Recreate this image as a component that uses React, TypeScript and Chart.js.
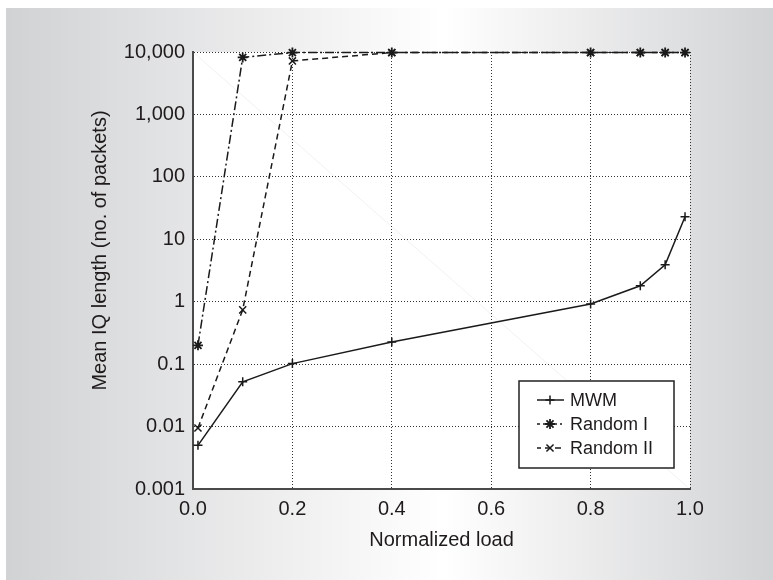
import React, { useEffect, useRef } from 'react';
import { Chart, registerables } from 'chart.js';

Chart.register(...registerables);

// ---- data ----
const loads = [0.01, 0.1, 0.2, 0.4, 0.8, 0.9, 0.95, 0.99];
const mwm = [0.005, 0.052, 0.102, 0.226, 0.92, 1.8, 3.9, 23];
const randomI = [0.2, 8200, 9800, 9800, 9800, 9800, 9800, 9800];
const randomII = [0.0095, 0.74, 7200, 9800, 9800, 9800, 9800, 9800];
const seriesNames = ['MWM', 'Random I', 'Random II'];

const xTickValues = [0, 0.2, 0.4, 0.6, 0.8, 1.0];
const xTickLabels = ['0.0', '0.2', '0.4', '0.6', '0.8', '1.0'];
const yTickValues = [0.001, 0.01, 0.1, 1, 10, 100, 1000, 10000];
const yTickLabels = ['0.001', '0.01', '0.1', '1', '10', '100', '1,000', '10,000'];
const xTitle = 'Normalized load';
const yTitle = 'Mean IQ length (no. of packets)';

const FONT = '"Liberation Sans", Arial, Helvetica, sans-serif';
const TEXT = '#1f1b1c';

const toPoints = (ys: number[]) => loads.map((x, i) => ({ x, y: ys[i] }));

const backgroundPlugin = {
  id: 'panelBg',
  beforeDraw(chart: any) {
    const { ctx, width, height, chartArea } = chart;
    ctx.save();
    ctx.fillStyle = '#ffffff';
    ctx.fillRect(0, 0, width, height);
    const g = ctx.createLinearGradient(6, 0, width, 0);
    g.addColorStop(0, '#d1d2d4');
    g.addColorStop(0.57, '#ffffff');
    g.addColorStop(1, '#d2d3d5');
    ctx.fillStyle = g;
    ctx.fillRect(6, 8, width - 6, height - 8);
    ctx.fillStyle = '#ffffff';
    ctx.fillRect(chartArea.left, chartArea.top, chartArea.right - chartArea.left, chartArea.bottom - chartArea.top);
    // faint diagonal artefact
    ctx.strokeStyle = '#f2f2f2';
    ctx.lineWidth = 1;
    ctx.beginPath();
    ctx.moveTo(chartArea.left, chartArea.top);
    ctx.lineTo(chartArea.right, chartArea.bottom);
    ctx.stroke();
    ctx.restore();
  },
};

const yTitlePlugin = {
  id: 'yTitle',
  afterDraw(chart: any) {
    const { ctx, chartArea } = chart;
    ctx.save();
    ctx.translate(100, (chartArea.top + chartArea.bottom) / 2 - 20);
    ctx.rotate(-Math.PI / 2);
    ctx.font = `20px ${FONT}`;
    ctx.fillStyle = TEXT;
    ctx.textAlign = 'center';
    ctx.textBaseline = 'middle';
    ctx.fillText(yTitle, 0, 0);
    ctx.restore();
  },
};

// minimal marker drawer for legend samples
function drawMarker(ctx: CanvasRenderingContext2D, style: string, r: number, x: number, y: number) {
  const dd = r * Math.SQRT1_2;
  ctx.beginPath();
  if (style === 'cross' || style === 'star') {
    ctx.moveTo(x - r, y);
    ctx.lineTo(x + r, y);
    ctx.moveTo(x, y - r);
    ctx.lineTo(x, y + r);
  }
  if (style === 'crossRot' || style === 'star') {
    ctx.moveTo(x - dd, y - dd);
    ctx.lineTo(x + dd, y + dd);
    ctx.moveTo(x - dd, y + dd);
    ctx.lineTo(x + dd, y - dd);
  }
  ctx.stroke();
}

const legendDashOffsets = [0, 6, 2];

const boxLegendPlugin = {
  id: 'boxLegend',
  afterDraw(chart: any) {
    const { ctx, chartArea } = chart;
    const w = 155;
    const h = 87;
    const right = chartArea.right - 16;
    const bottom = chartArea.bottom - 21;
    const left = right - w;
    const top = bottom - h;
    ctx.save();
    ctx.fillStyle = '#ffffff';
    ctx.fillRect(left, top, w, h);
    ctx.strokeStyle = '#222222';
    ctx.lineWidth = 1.5;
    ctx.strokeRect(left, top, w, h);
    chart.data.datasets.forEach((ds: any, i: number) => {
      const cy = top + 19 + i * 24;
      ctx.save();
      ctx.strokeStyle = ds.borderColor;
      ctx.lineWidth = ds.borderWidth;
      ctx.setLineDash(ds.borderDash || []);
      ctx.lineDashOffset = legendDashOffsets[i];
      ctx.beginPath();
      ctx.moveTo(left + 18, cy);
      ctx.lineTo(left + 45, cy);
      ctx.stroke();
      ctx.restore();
      ctx.save();
      ctx.strokeStyle = ds.pointBorderColor;
      ctx.lineWidth = ds.pointBorderWidth;
      drawMarker(ctx, ds.pointStyle, ds.pointRadius, left + 31, cy);
      ctx.restore();
      ctx.fillStyle = TEXT;
      ctx.font = `18px ${FONT}`;
      ctx.textAlign = 'left';
      ctx.textBaseline = 'middle';
      ctx.fillText(ds.label, left + 51, cy + 1);
    });
    ctx.restore();
  },
};

export default function App() {
  const ref = useRef<HTMLCanvasElement | null>(null);
  useEffect(() => {
    if (!ref.current) return;
    const chart = new Chart(ref.current, {
      type: 'line',
      data: {
        datasets: [
          {
            label: seriesNames[0],
            data: toPoints(mwm),
            borderColor: '#1a1a1a',
            borderWidth: 1.5,
            pointStyle: 'cross',
            pointRadius: 4.5,
            pointBorderWidth: 1.5,
            pointBorderColor: '#1a1a1a',
            pointBackgroundColor: '#1a1a1a',
            borderDash: [],
            clip: 10,
          } as any,
          {
            label: seriesNames[1],
            data: toPoints(randomI),
            borderColor: '#1a1a1a',
            borderWidth: 1.5,
            pointStyle: 'star',
            pointRadius: 5,
            pointBorderWidth: 1.8,
            pointBorderColor: '#1a1a1a',
            pointBackgroundColor: '#1a1a1a',
            borderDash: [9, 3, 2, 3],
            clip: 10,
          } as any,
          {
            label: seriesNames[2],
            data: toPoints(randomII),
            borderColor: '#1a1a1a',
            borderWidth: 1.5,
            pointStyle: 'crossRot',
            pointRadius: 5,
            pointBorderWidth: 1.5,
            pointBorderColor: '#1a1a1a',
            pointBackgroundColor: '#1a1a1a',
            borderDash: [6, 4],
            clip: 10,
          } as any,
        ],
      },
      options: {
        responsive: false,
        animation: false,
        layout: { padding: { left: 0, top: 52, right: 83, bottom: 0 } },
        plugins: {
          legend: { display: false },
          tooltip: { enabled: false },
        },
        scales: {
          x: {
            type: 'linear',
            min: 0,
            max: 1,
            afterBuildTicks: (s: any) => {
              s.ticks = xTickValues.map((v) => ({ value: v }));
            },
            afterFit: (s: any) => {
              s.height = 91;
            },
            ticks: {
              color: TEXT,
              font: { family: FONT, size: 20 },
              padding: 8,
              maxRotation: 0,
              callback: (_v: any, i: number) => xTickLabels[i],
            },
            grid: { color: '#333333', lineWidth: 1, drawTicks: false },
            border: { display: true, color: '#4a4a4a', width: 2, dash: [1, 2] },
            title: {
              display: true,
              text: xTitle,
              color: TEXT,
              font: { family: FONT, size: 20 },
              padding: { top: 0, bottom: 28 },
            },
          },
          y: {
            type: 'logarithmic',
            min: 0.001,
            max: 10000,
            afterBuildTicks: (s: any) => {
              s.ticks = yTickValues.map((v) => ({ value: v }));
            },
            afterFit: (s: any) => {
              s.width = 193;
            },
            ticks: {
              color: TEXT,
              font: { family: FONT, size: 20 },
              padding: 8,
              callback: (_v: any, i: number) => yTickLabels[i],
            },
            grid: { color: '#333333', lineWidth: 1, drawTicks: false },
            border: { display: true, color: '#4a4a4a', width: 2, dash: [1, 2] },
          },
        },
      },
      plugins: [backgroundPlugin, boxLegendPlugin, yTitlePlugin],
    } as any);
    return () => chart.destroy();
  }, []);
  return (
    <canvas
      ref={ref}
      width={773}
      height={580}
      style={{ position: 'absolute', left: 0, top: 0, width: 773, height: 580 }}
    />
  );
}
